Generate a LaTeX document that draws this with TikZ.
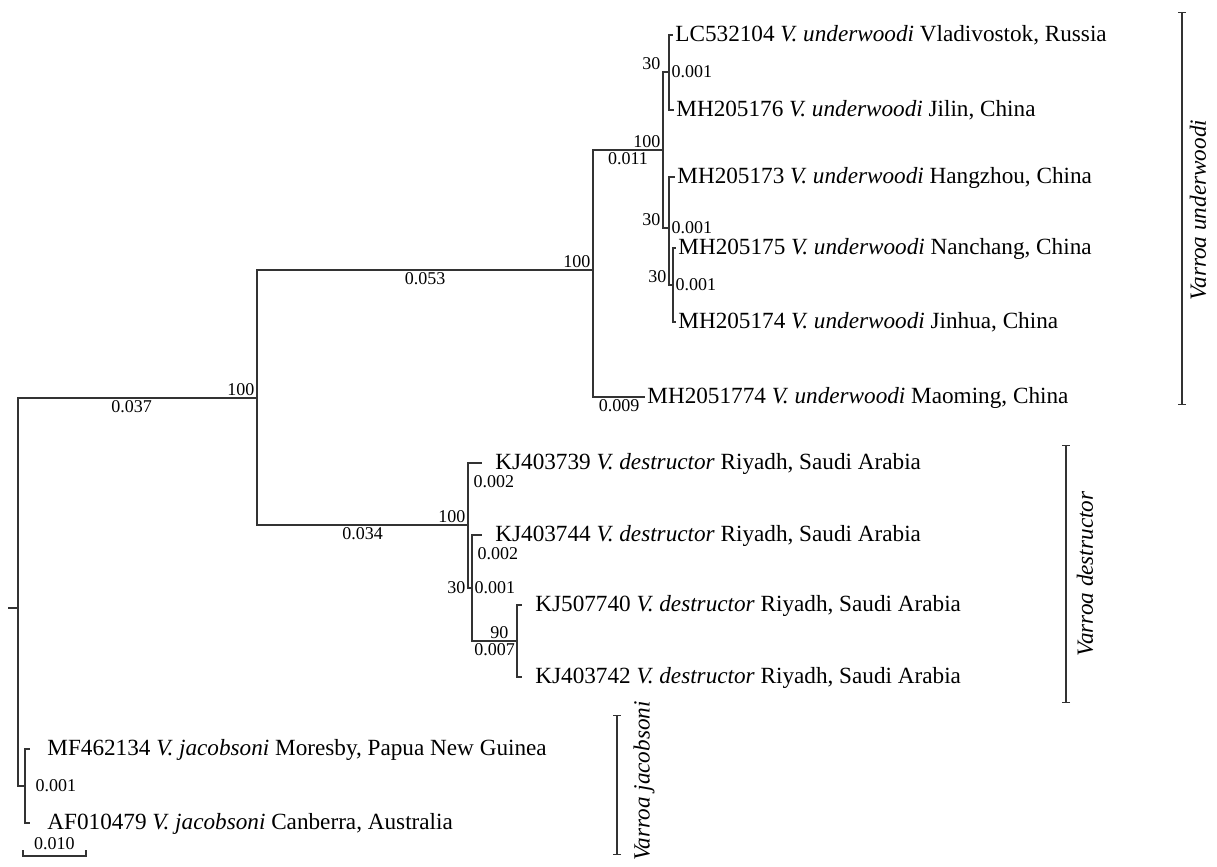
\documentclass[tikz,border=0pt]{standalone}
\usepackage{fontspec}
\setmainfont{Liberation Serif}
\usetikzlibrary{positioning, arrows.meta}
\tikzstyle{branch} = [line width=0.7pt, draw=black!80]
\tikzstyle{taxon} = [inner sep=0pt, font=\fontsize{11.6}{13}\selectfont, text height=8pt, text depth=2pt]
\tikzstyle{boot} = [inner sep=1pt, font=\fontsize{9}{10}\selectfont]
\tikzstyle{cladebar} = [line width=0.7pt, draw=black!80, {Bar[width=4pt]}-{Bar[width=4pt]}]
\tikzstyle{cladename} = [rotate=90, anchor=center, inner sep=0pt, font=\fontsize{11.6}{13}\selectfont\itshape]

\begin{document}
\begin{tikzpicture}[x=0.5pt, y=-0.5pt]
	\useasboundingbox (0,0) rectangle (1217,867);
	\coordinate (stub) at (8,608);
	\coordinate (root) at (18,608);
	\coordinate (nA) at (257,398);
	\coordinate (nU) at (593,270);
	\coordinate (nU1) at (663,150);
	\coordinate (nU2) at (669,72);
	\coordinate (nU3) at (669,228);
	\coordinate (nU4) at (673,285);
	\coordinate (nD) at (468,525);
	\coordinate (nD1) at (472,588);
	\coordinate (nD2) at (517,641);
	\coordinate (nJ) at (25,786);
	\coordinate (tLC) at (673,35);
	\coordinate (tMH176) at (674,110);
	\coordinate (tMH173) at (675,177);
	\coordinate (tMH175) at (676,248);
	\coordinate (tMH174) at (676,322);
	\coordinate (tMH177) at (645,397);
	\coordinate (t739) at (482,463);
	\coordinate (t744) at (482,535);
	\coordinate (t740) at (522,605);
	\coordinate (t742) at (522,677);
	\coordinate (tMF) at (30,749);
	\coordinate (tAF) at (30,823);
	\node[taxon, right=1pt of tLC] (lc) {LC532104 \textit{V. underwoodi} Vladivostok, Russia};
	\node[taxon, right=1pt of tMH176] (mh176) {MH205176 \textit{V. underwoodi} Jilin, China};
	\node[taxon, right=1pt of tMH173] (mh173) {MH205173 \textit{V. underwoodi} Hangzhou, China};
	\node[taxon, right=1pt of tMH175] (mh175) {MH205175 \textit{V. underwoodi} Nanchang, China};
	\node[taxon, right=1pt of tMH174] (mh174) {MH205174 \textit{V. underwoodi} Jinhua, China};
	\node[taxon, right=1pt of tMH177] (mh177) {MH2051774 \textit{V. underwoodi} Maoming, China};
	\node[taxon, right=6.5pt of t739] (kj739) {KJ403739 \textit{V. destructor} Riyadh, Saudi Arabia};
	\node[taxon, right=6.5pt of t744] (kj744) {KJ403744 \textit{V. destructor} Riyadh, Saudi Arabia};
	\node[taxon, right=6.5pt of t740] (kj740) {KJ507740 \textit{V. destructor} Riyadh, Saudi Arabia};
	\node[taxon, right=6.5pt of t742] (kj742) {KJ403742 \textit{V. destructor} Riyadh, Saudi Arabia};
	\node[taxon, right=8.5pt of tMF] (mf) {MF462134 \textit{V. jacobsoni} Moresby, Papua New Guinea};
	\node[taxon, right=8.5pt of tAF] (af) {AF010479 \textit{V. jacobsoni} Canberra, Australia};
	\draw[branch] (stub) -- (root);
	\draw[branch] (root) |- node[boot, pos=.75, below, xshift=-3pt]{0.037} node[boot, pos=1, above left]{100} (nA);
	\draw[branch] (root) |- node[boot, pos=1, right=4pt]{0.001} (nJ);
	\draw[branch] (nA) |- node[boot, pos=.75, below]{0.053} node[boot, pos=1, above left]{100} (nU);
	\draw[branch] (nA) |- node[boot, pos=.75, below]{0.034} node[boot, pos=1, above left]{100} (nD);
	\draw[branch] (nU) |- node[boot, pos=.75, below]{0.011} node[boot, pos=1, above left]{100} (nU1);
	\draw[branch] (nU) |- node[boot, pos=.75, below]{0.009} (tMH177);
	\draw[branch] (nU1) |- node[boot, pos=.5, above left]{30} node[boot, pos=1, right]{0.001} (nU2);
	\draw[branch] (nU1) |- node[boot, pos=.5, above left]{30} node[boot, pos=1, right]{0.001} (nU3);
	\draw[branch] (nU2) |- (tLC);
	\draw[branch] (nU2) |- (tMH176);
	\draw[branch] (nU3) |- (tMH173);
	\draw[branch] (nU3) |- node[boot, pos=.5, above left]{30} node[boot, pos=1, right]{0.001} (nU4);
	\draw[branch] (nU4) |- (tMH175);
	\draw[branch] (nU4) |- (tMH174);
	\draw[branch] (nD) |- node[boot, pos=.5, below right, xshift=1.5pt, yshift=-5pt]{0.002} (t739);
	\draw[branch] (nD) |- node[boot, pos=.5, left]{30} node[boot, pos=1, right]{0.001} (nD1);
	\draw[branch] (nD1) |- node[boot, pos=.5, below right, xshift=1.5pt, yshift=-5pt]{0.002} (t744);
	\draw[branch] (nD1) |- node[boot, pos=.75, below]{0.007} node[boot, pos=1, above left, xshift=-3pt]{90} (nD2);
	\draw[branch] (nD2) |- (t740);
	\draw[branch] (nD2) |- (t742);
	\draw[branch] (nJ) |- (tMF);
	\draw[branch] (nJ) |- (tAF);
	\coordinate (sbl) at (23,856);
	\coordinate (sbr) at (86,856);
	\draw[branch] ([yshift=3pt]sbl) -- (sbl) -- node[boot, above=2pt]{0.010} (sbr) -- ([yshift=3pt]sbr);
	\coordinate (ubt) at (1182,12);
	\coordinate (ubb) at (1182,405);
	\coordinate (dbt) at (1066,445);
	\coordinate (dbb) at (1066,703);
	\coordinate (jbt) at (617,715);
	\coordinate (jbb) at (617,855);
	\draw[cladebar] (ubt) -- (ubb);
	\draw[cladebar] (dbt) -- (dbb);
	\draw[cladebar] (jbt) -- (jbb);
	\node[cladename] (uname) at (1198,210) {Varroa underwoodi};
	\node[cladename] (dname) at (1085,574) {Varroa destructor};
	\node[cladename] (jname) at (644,781) {Varroa jacobsoni};
\end{tikzpicture}
\end{document}
